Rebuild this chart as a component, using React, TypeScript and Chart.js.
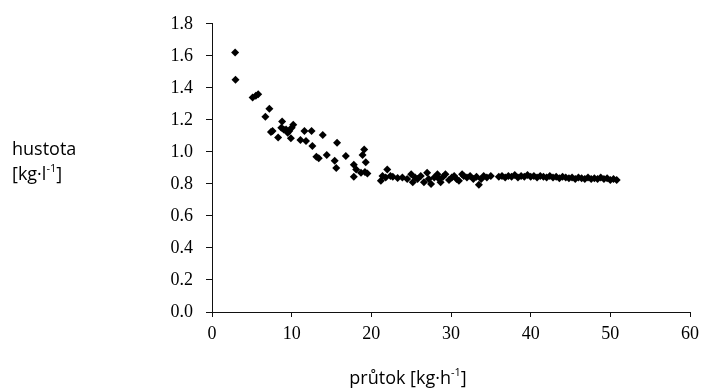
import React, { useEffect, useRef } from 'react';
import { Chart, registerables } from 'chart.js';

Chart.register(...registerables);

// průtok [kg·h-1]
const flowValues = [
  2.9, 2.95, 5.1, 5.5, 5.8, 6.7, 7.2, 7.4, 7.6, 8.3, 8.7, 8.8, 9.0, 9.3, 9.5, 9.7, 9.9, 10.2, 10.0,
  11.1, 11.6, 11.8, 12.5, 12.6, 13.1, 13.4, 13.9, 14.4, 15.4, 15.6, 15.7, 16.8, 17.8, 17.8, 18.1,
  18.7, 18.9, 19.1, 19.3, 19.2, 19.5,
  21.2, 21.4, 21.8, 22.0, 22.4, 22.7, 23.3, 23.9, 24.5, 25.0, 25.2, 25.5, 25.8, 26.2, 26.6, 27.0,
  27.2, 27.5, 27.9, 28.3, 28.5, 28.7, 29.0, 29.3, 29.75, 30.1, 30.4, 30.7, 31.0, 31.4, 31.6, 32.0,
  32.4, 32.8, 33.2, 33.5, 33.8, 34.1, 34.5, 35.0,
  36.0, 36.4, 36.8, 37.2, 37.6, 38.0, 38.4, 38.8, 39.2, 39.6, 40.0, 40.4, 40.8, 41.2, 41.6, 42.0,
  42.4, 42.8, 43.2, 43.6, 44.0, 44.4, 44.8, 45.2, 45.6, 46.0, 46.4, 46.8, 47.2, 47.6, 48.0, 48.4,
  48.8, 49.2, 49.6, 50.0, 50.4, 50.8,
];

// hustota [kg·l-1]
const densityValues = [
  1.62, 1.45, 1.34, 1.35, 1.36, 1.22, 1.27, 1.125, 1.13, 1.09, 1.15, 1.19, 1.14, 1.14, 1.12, 1.13,
  1.085, 1.17, 1.15, 1.075, 1.13, 1.068, 1.13, 1.037, 0.97, 0.96, 1.105, 0.98, 0.945, 0.9, 1.057,
  0.975, 0.845, 0.92, 0.89, 0.87, 0.98, 1.015, 0.935, 0.875, 0.865,
  0.82, 0.85, 0.84, 0.89, 0.85, 0.845, 0.837, 0.84, 0.83, 0.86, 0.81, 0.84, 0.83, 0.85, 0.81, 0.87,
  0.83, 0.8, 0.84, 0.86, 0.83, 0.81, 0.845, 0.86, 0.825, 0.84, 0.85, 0.83, 0.82, 0.86, 0.85, 0.84,
  0.85, 0.83, 0.845, 0.795, 0.83, 0.85, 0.84, 0.85,
  0.845, 0.85, 0.84, 0.85, 0.845, 0.855, 0.84, 0.85, 0.845, 0.855, 0.845, 0.85, 0.84, 0.85, 0.845,
  0.84, 0.85, 0.84, 0.845, 0.835, 0.845, 0.84, 0.835, 0.84, 0.83, 0.84, 0.835, 0.83, 0.84, 0.83,
  0.835, 0.83, 0.84, 0.83, 0.835, 0.825, 0.83, 0.825,
];

const xTickValues = [0, 10, 20, 30, 40, 50, 60];
const yTickValues = [0, 0.2, 0.4, 0.6, 0.8, 1.0, 1.2, 1.4, 1.6, 1.8];

const yTitleLine1 = 'hustota';
const yTitleLine2: [string, boolean][] = [['[kg·l', false], ['-1', true], [']', false]];
const xTitle: [string, boolean][] = [['průtok [kg·h', false], ['-1', true], [']', false]];

const MAIN_FONT = '18px "Open Sans"';
const SUP_FONT = '11px "Open Sans"';

function richWidth(ctx: CanvasRenderingContext2D, parts: [string, boolean][]) {
  let w = 0;
  for (const [t, sup] of parts) {
    ctx.font = sup ? SUP_FONT : MAIN_FONT;
    w += ctx.measureText(t).width;
  }
  return w;
}

function drawRich(ctx: CanvasRenderingContext2D, parts: [string, boolean][], x: number, y: number) {
  let cx = x;
  for (const [t, sup] of parts) {
    ctx.font = sup ? SUP_FONT : MAIN_FONT;
    ctx.fillText(t, cx, sup ? y - 8 : y);
    cx += ctx.measureText(t).width;
  }
}

const titlesPlugin = {
  id: 'titlesPlugin',
  afterDraw(chart: any) {
    const ctx: CanvasRenderingContext2D = chart.ctx;
    ctx.save();
    ctx.fillStyle = '#000';
    ctx.textBaseline = 'alphabetic';
    ctx.textAlign = 'left';
    ctx.font = MAIN_FONT;
    ctx.fillText(yTitleLine1, 12, 155);
    drawRich(ctx, yTitleLine2, 12, 180);
    const w = richWidth(ctx, xTitle);
    drawRich(ctx, xTitle, 408 - w / 2, 384);
    ctx.restore();
  },
};

export default function App() {
  const ref = useRef<HTMLCanvasElement | null>(null);

  useEffect(() => {
    if (!ref.current) return;
    const data = flowValues.map((x, i) => ({ x, y: densityValues[i] }));
    const chart = new Chart(ref.current, {
      type: 'scatter',
      data: {
        datasets: [
          {
            data,
            pointStyle: 'rectRot',
            pointRadius: 4,
            backgroundColor: '#000',
            borderColor: '#000',
            borderWidth: 0,
          },
        ],
      },
      options: {
        responsive: false,
        animation: false,
        layout: { padding: { left: 0, right: 13, top: 22, bottom: 0 } },
        plugins: { legend: { display: false }, tooltip: { enabled: false } },
        scales: {
          x: {
            type: 'linear',
            min: 0,
            max: 60,
            afterFit: (s: any) => {
              s.height = 78;
            },
            afterBuildTicks: (s: any) => {
              s.ticks = xTickValues.map((v) => ({ value: v }));
            },
            grid: { display: true, drawOnChartArea: false, drawTicks: true, tickLength: 5, color: '#111' },
            border: { display: true, color: '#111', width: 1 },
            ticks: {
              color: '#000',
              font: { family: '"Liberation Serif"', size: 18 },
              padding: 6,
              maxRotation: 0,
              callback: (v: any) => String(v),
            },
          },
          y: {
            type: 'linear',
            min: 0,
            max: 1.8,
            afterFit: (s: any) => {
              s.width = 212;
            },
            afterBuildTicks: (s: any) => {
              s.ticks = yTickValues.map((v) => ({ value: v }));
            },
            grid: { display: true, drawOnChartArea: false, drawTicks: true, tickLength: 6, color: '#111' },
            border: { display: true, color: '#111', width: 1 },
            ticks: {
              color: '#000',
              font: { family: '"Liberation Serif"', size: 18 },
              padding: 13,
              callback: (v: any) => Number(v).toFixed(1),
            },
          },
        },
      },
      plugins: [titlesPlugin],
    });
    return () => chart.destroy();
  }, []);

  return (
    <div style={{ position: 'absolute', left: 0, top: 0, width: 705, height: 390, background: '#fff' }}>
      <canvas ref={ref} width={705} height={390} />
    </div>
  );
}
